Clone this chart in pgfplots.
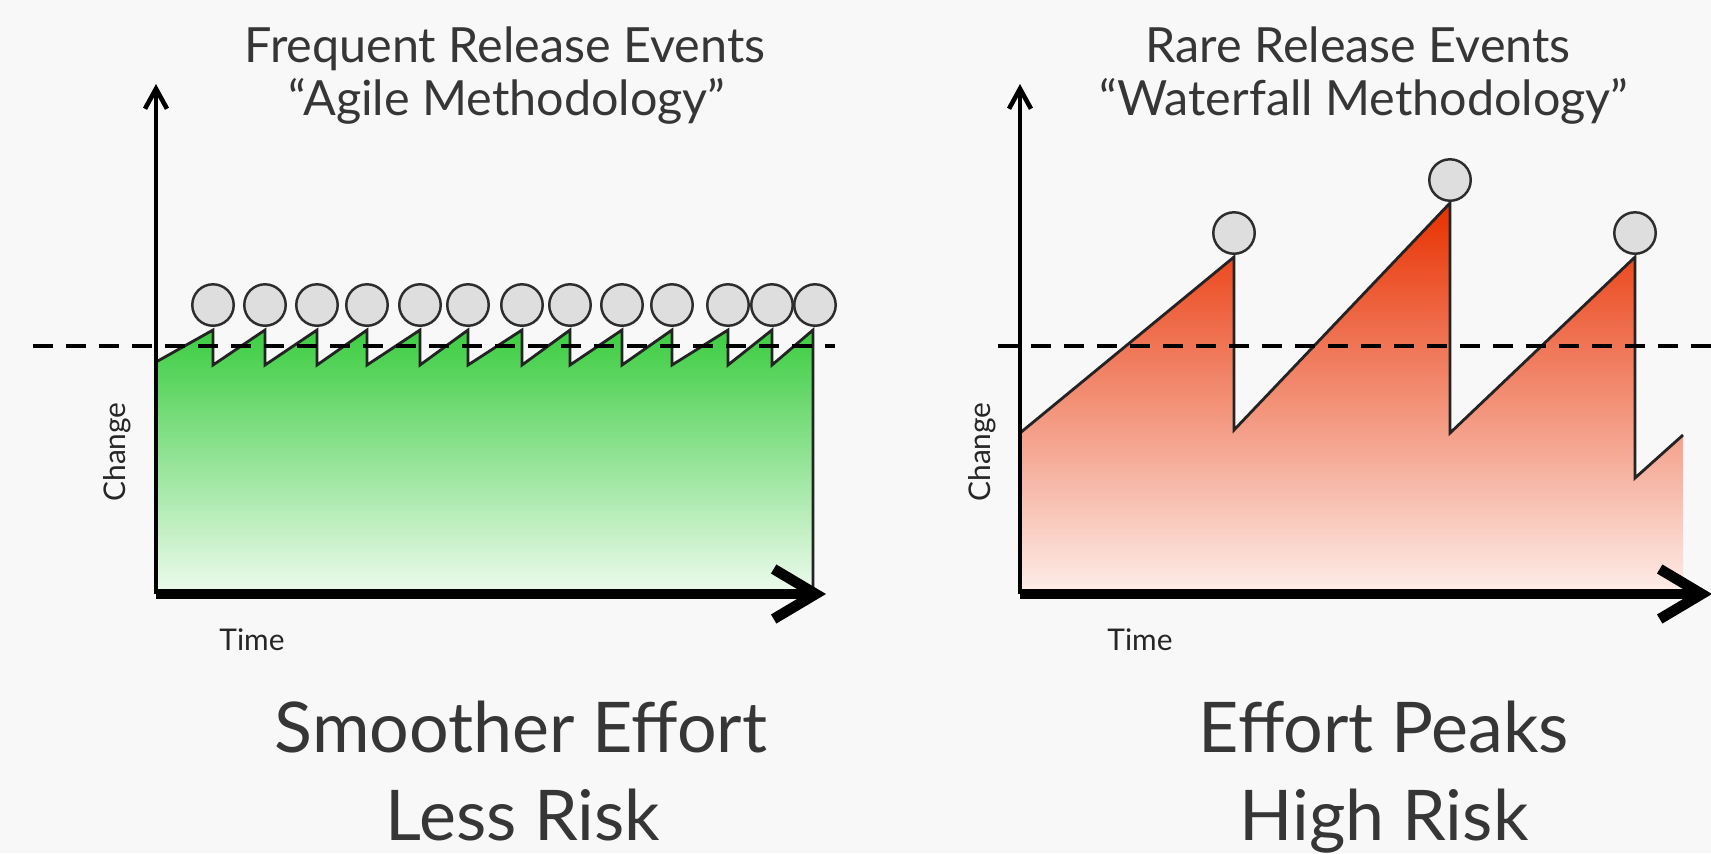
\documentclass[border=0pt]{standalone}
\usepackage{fontspec}
\setmainfont{Lato}
\usepackage{pgfplots}
\pgfplotsset{compat=1.18}
\usepackage{pgfplotstable}
\usetikzlibrary{arrows.meta}

\definecolor{bgc}{HTML}{F8F8F8}
\definecolor{txt}{HTML}{363636}
\definecolor{gtop}{RGB}{60,205,65}
\definecolor{gmid}{RGB}{115,218,115}
\definecolor{gbot}{RGB}{238,251,238}
\definecolor{rtop}{RGB}{232,48,0}
\definecolor{rmid}{RGB}{242,98,50}
\definecolor{rbot}{RGB}{253,238,234}
\definecolor{circfill}{RGB}{222,222,222}
\definecolor{circdraw}{RGB}{45,45,45}
\definecolor{saw}{RGB}{35,35,35}

% Agile: frequent small releases (x = time, y = change)
\pgfplotstableread{
x y
0 232
57 264
57 229
109 264
109 229
161 264
161 229
211 264
211 229
264 264
264 229
312 264
312 229
366 264
366 229
414 264
414 229
466 264
466 229
516 264
516 229
572 264
572 229
616 264
616 229
657 264
657 0
}\agile
\pgfplotstableread{
x y
57 289
109 289
161 289
211 289
264 289
312 289
366 289
414 289
466 289
516 289
572 289
616 289
659 289
}\agilerel

% Waterfall: rare big releases
\pgfplotstableread{
x y
0 161
214 337
214 164
430 391
430 161
615 337
615 116
663 159
}\waterfall
\pgfplotstableread{
x y
214 361
430 414
615 361
}\waterrel

\pgfplotsset{panel/.style={
  scale only axis, height=51.0mm, xmin=0, ymin=0, ymax=510,
  enlargelimits=false, axis lines=left, xtick=\empty, ytick=\empty,
  clip=false, axis on top,
  x axis line style={line width=3pt, -{Straight Barb[length=4.2mm,width=5.0mm]}},
  y axis line style={line width=1.3pt, -{Straight Barb[length=2mm,width=2.2mm]}},
}}

\begin{document}
\begin{tikzpicture}
\fill[bgc] (0,0) rectangle (171.1mm,85.3mm);

% Left panel
\begin{axis}[panel, at={(15.6mm,25.9mm)}, anchor=south west, width=67.0mm, xmax=670]
  \addplot[draw=none, top color=gtop, middle color=gmid, bottom color=gbot] table[x=x,y=y]{\agile} \closedcycle;
  \addplot[saw, line width=0.8pt] table[x=x,y=y]{\agile};
  \addplot[black, line width=1.2pt, dash pattern=on 2mm off 1.3mm] coordinates {(-123,248) (679,248)};
  \addplot[only marks, mark=*, mark size=5.9pt, mark options={fill=circfill, draw=circdraw, line width=0.7pt}] table[x=x,y=y]{\agilerel};
\end{axis}

% Right panel
\begin{axis}[panel, at={(102.0mm,25.9mm)}, anchor=south west, width=69.2mm, xmax=692]
  \addplot[draw=none, top color=rtop, middle color=rmid, bottom color=rbot] table[x=x,y=y]{\waterfall} \closedcycle;
  \addplot[saw, line width=0.8pt] table[x=x,y=y]{\waterfall};
  \addplot[black, line width=1.2pt, dash pattern=on 2mm off 1.3mm] coordinates {(-22,248) (700,248)};
  \addplot[only marks, mark=*, mark size=5.9pt, mark options={fill=circfill, draw=circdraw, line width=0.7pt}] table[x=x,y=y]{\waterrel};
\end{axis}

% Titles
\begin{scope}[every node/.style={text=txt, inner sep=0pt}]
\node[anchor=base, font=\fontsize{13.8}{15}\selectfont] at (50.5mm,79.1mm) {Frequent Release Events};
\node[anchor=base, font=\fontsize{13.8}{15}\selectfont] at (50.7mm,73.8mm) {“Agile Methodology”};
\node[anchor=base, font=\fontsize{13.8}{15}\selectfont] at (135.8mm,79.1mm) {Rare Release Events};
\node[anchor=base, font=\fontsize{13.8}{15}\selectfont] at (136.4mm,73.8mm) {“Waterfall Methodology”};

\node[anchor=base, font=\fontsize{19.9}{22}\selectfont] at (52.1mm,10.1mm) {Smoother Effort};
\node[anchor=base, font=\fontsize{19.9}{22}\selectfont] at (52.3mm,1.3mm) {Less Risk};
\node[anchor=base, font=\fontsize{19.9}{22}\selectfont] at (138.4mm,10.1mm) {Effort Peaks};
\node[anchor=base, font=\fontsize{19.9}{22}\selectfont] at (138.4mm,1.3mm) {High Risk};

\node[anchor=base, font=\fontsize{8.5}{10}\selectfont, text=black!85] at (25.2mm,20.3mm) {Time};
\node[anchor=base, font=\fontsize{8.5}{10}\selectfont, text=black!85] at (114.0mm,20.3mm) {Time};
\node[rotate=90, font=\fontsize{8.5}{10}\selectfont, text=black!85] at (11.7mm,40.1mm) {Change};
\node[rotate=90, font=\fontsize{8.5}{10}\selectfont, text=black!85] at (98.2mm,40.1mm) {Change};
\end{scope}

\pgfresetboundingbox
\path[use as bounding box] (0,0) rectangle (171.1mm,85.3mm);
\end{tikzpicture}
\end{document}
